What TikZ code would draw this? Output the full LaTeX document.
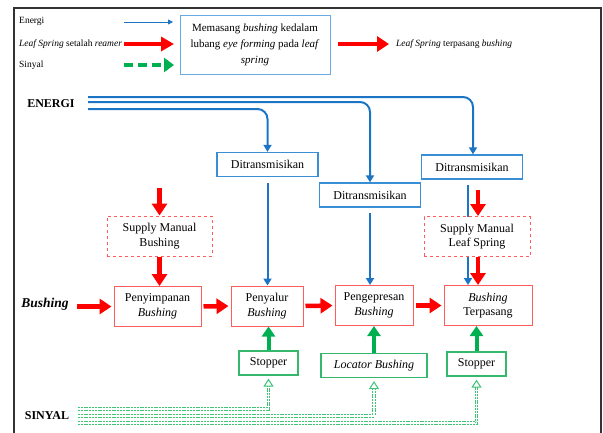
\documentclass[tikz,border=0pt]{standalone}
\usepackage{fontspec}
\setmainfont{Liberation Serif}
\usepackage{xcolor}
\usetikzlibrary{arrows.meta,positioning,backgrounds}
\definecolor{lineBlue}{HTML}{1B75C4}
\definecolor{boxBlue}{HTML}{3A8ED6}
\definecolor{lightBlue}{HTML}{6AAAE2}
\definecolor{boxRed}{HTML}{FF5C5C}
\definecolor{palGreen}{HTML}{00B050}
\definecolor{boxGreen}{HTML}{35B86B}
\definecolor{sigGreen}{HTML}{3DC476}

\begin{document}
\begin{tikzpicture}[
  x=1pt, y=-1pt,
  font=\fontsize{12}{14.5}\selectfont,
  legtext/.style={font=\fontsize{9.5}{11}\selectfont, inner sep=1pt},
  box/.style={draw, align=center, inner sep=2pt, line width=1pt},
  bluebox/.style={box, draw=boxBlue, line width=1.3pt, fill=white, minimum width=101pt, minimum height=24pt},
  redbox/.style={box, draw=boxRed, fill=white, minimum height=40pt},
  supplybox/.style={box, draw=boxRed, dashed, fill=white, minimum height=40pt},
  greenbox/.style={box, draw=boxGreen, line width=1.2pt, fill=white, minimum height=24pt},
  energy/.style={draw=lineBlue, line width=2pt, rounded corners=10pt, -{Triangle[length=7pt,width=8pt]}},
  redarrow/.style={draw=red, line width=4.5pt, -{Triangle[length=12pt,width=15pt]}},
  greenarrow/.style={draw=palGreen, line width=4pt, -{Triangle[length=10pt,width=13pt]}},
  signal/.style={draw=sigGreen, line width=1pt, double=white, double distance=1.6pt, dash pattern=on 2pt off 0.8pt, -{Triangle[open,length=8pt,width=10pt]}},
]
\useasboundingbox (0,0) rectangle (603,432);
% outer frame
\draw[black!80, line width=2pt] (14,445) -- (14,7.5) -- (600.5,7.5) -- (600.5,445);

% legend
\node[legtext, anchor=west] (legE) at (18,21) {Energi};
\node[legtext, anchor=west] (legL) at (18,44) {\textit{Leaf Spring} setalah \textit{reamer}};
\node[legtext, anchor=west] (legS) at (18,65) {Sinyal};
\coordinate (legEa) at (124,22); \coordinate (legEb) at (173,22);
\coordinate (legLa) at (124,44); \coordinate (legLb) at (174,44);
\coordinate (legSa) at (124,65); \coordinate (legSb) at (174,65);
\draw[draw=lineBlue, line width=0.8pt, -{Triangle[length=5pt,width=5pt]}] (legEa) -- (legEb);
\draw[draw=red, line width=4pt, -{Triangle[length=13pt,width=14pt]}] (legLa) -- (legLb);
\draw[draw=palGreen, line width=4pt, dash pattern=on 9pt off 5pt, -{Triangle[length=10pt,width=14pt]}] (legSa) -- (legSb);

\node[box, draw=lightBlue, line width=1pt, minimum width=150pt, minimum height=59pt,
  font=\fontsize{11}{16}\selectfont] (goal) at (255,44.5)
  {Memasang \textit{bushing} kedalam\\lubang \textit{eye forming} pada \textit{leaf}\\\textit{spring}};
\coordinate (goalOut) at (338,44);
\coordinate (goalEnd) at (389,44);
\draw[redarrow] (goalOut) -- (goalEnd);
\node[legtext, anchor=west] (result) at (395,44) {\textit{Leaf Spring} terpasang \textit{bushing}};

% labels on the left
\node[font=\fontsize{12}{14}\selectfont\bfseries] (energi) at (51,104) {ENERGI};
\node[font=\fontsize{13.5}{15}\selectfont\bfseries\itshape] (bush) at (45,304) {Bushing};
\node[font=\fontsize{12}{14}\selectfont\bfseries] (sinyal) at (47,416) {SINYAL};

% transmission boxes
\node[bluebox] (tL) at (267.5,164.5) {Ditransmisikan};
\node[bluebox] (tM) at (370,195) {Ditransmisikan};
\node[bluebox] (tR) at (472,167) {Ditransmisikan};

% manual supply
\node[supplybox, minimum width=105pt] (supB) at (159.5,236) {Supply Manual\\Bushing};
\node[supplybox, minimum width=106pt] (supL) at (477,236.5) {Supply Manual\\Leaf Spring};

% process chain
\node[redbox, minimum width=87pt] (store) at (157.5,306.5) {Penyimpanan\\\textit{Bushing}};
\node[redbox, minimum width=72pt] (feed) at (267,306) {Penyalur\\\textit{Bushing}};
\node[redbox, minimum width=78pt] (press) at (374,305.5) {Pengepresan\\\textit{Bushing}};
\node[redbox, minimum width=88pt] (done) at (488,305.5) {\textit{Bushing}\\Terpasang};

% signal boxes
\node[greenbox, minimum width=59pt] (stopL) at (268.5,363) {Stopper};
\node[greenbox, minimum width=106pt] (locate) at (374,365.5) {\textit{Locator Bushing}};
\node[greenbox, minimum width=59pt] (stopR) at (476.5,364) {Stopper};

% energy lines
\coordinate (eTop) at (88,97);
\coordinate (eMid) at (88,102);
\coordinate (eLow) at (88,109);
\draw[energy] (eTop) -| ([xshift=1pt]tR.north);
\draw[energy] (eMid) -| (tM.north);
\draw[energy] (eLow) -| (tL.north);
\draw[energy, shorten <=6pt] (tL.south) -- (tL.south |- feed.north);
\draw[energy, shorten <=5pt] (tM.south) -- (tM.south |- press.north);
\begin{scope}[on background layer]
\draw[energy, shorten <=5pt] ([xshift=-4pt]tR.south) -- ([xshift=-4pt]tR.south |- done.north);
\end{scope}

% material flow
\coordinate (supBin) at ([yshift=28pt]supB.north);
\coordinate (supLin) at ([xshift=1pt,yshift=26pt]supL.north);
\draw[redarrow] (supBin) -- (supB.north);
\draw[redarrow] (supLin) -- ([xshift=1pt]supL.north);
\draw[redarrow] (supB.south) -- (supB.south |- store.north);
\draw[redarrow] ([xshift=1pt]supL.south) -- ([xshift=1pt]supL.south |- done.north);
\coordinate (bushOut) at (77,306.5);
\draw[redarrow, shorten >=2pt] (bushOut) -- (store.west);
\draw[redarrow, shorten <=2pt, shorten >=2pt] (store.east) -- (feed.west);
\draw[redarrow, shorten <=2pt, shorten >=2pt] (feed.east) -- (press.west);
\draw[redarrow, shorten <=2pt, shorten >=2pt] (press.east) -- (done.west);

% signals
\draw[greenarrow] (stopL.north) -- (stopL.north |- feed.south);
\draw[greenarrow] (locate.north) -- (locate.north |- press.south);
\draw[greenarrow] (stopR.north) -- (stopR.north |- done.south);
\coordinate (sTop) at (78,409);
\coordinate (sMid) at (78,416);
\coordinate (sLow) at (78,423);
\draw[signal, shorten >=3pt] (sTop) -| (stopL.south);
\draw[signal, shorten >=3pt] (sMid) -| (locate.south);
\draw[signal, shorten >=3pt] (sLow) -| (stopR.south);
\end{tikzpicture}
\end{document}
